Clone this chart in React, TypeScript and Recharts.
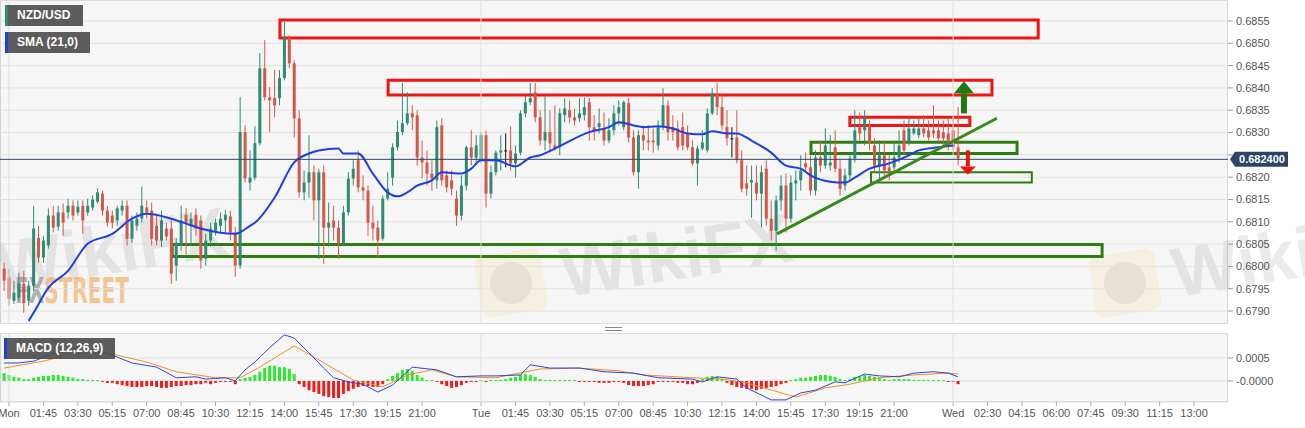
import React from "react";
import {
  ComposedChart,
  Bar,
  Line,
  XAxis,
  YAxis,
  CartesianGrid,
  ReferenceLine,
  ReferenceArea,
  ReferenceDot,
  Cell,
} from "recharts";

// 15-minute NZD/USD bars, first bar is Sun 23:45 (index -1), Mon 00:00 = 0
const FIRST_BAR = -1;

const opens = [
  0.67995, 0.67975, 0.67923, 0.6793, 0.67961, 0.67923, 0.67957, 0.68064, 0.6802, 0.68047,
  0.68114, 0.68089, 0.68121, 0.68121, 0.68136, 0.68121, 0.68136, 0.68121, 0.68132, 0.68145,
  0.68163, 0.68125, 0.68114, 0.68103, 0.68125, 0.68136, 0.68062, 0.68091, 0.68107, 0.68132,
  0.68125, 0.68091, 0.68058, 0.68085, 0.68085, 0.68002, 0.68047, 0.68116, 0.68091, 0.68116,
  0.68103, 0.68017, 0.68058, 0.6808, 0.68091, 0.68103, 0.68112, 0.68076, 0.68002, 0.68301,
  0.68188, 0.68199, 0.68276, 0.68444, 0.68379, 0.68377, 0.68377, 0.68422, 0.68512, 0.68455,
  0.68332, 0.68166, 0.68188, 0.68211, 0.68148, 0.68211, 0.68087, 0.68103, 0.68087, 0.68051,
  0.68121, 0.68197, 0.68238, 0.68177, 0.6817, 0.68098, 0.68087, 0.68062, 0.68152, 0.68199,
  0.68267, 0.68301, 0.68321, 0.68343, 0.68339, 0.68244, 0.68233, 0.68208, 0.68193, 0.68316,
  0.68204, 0.68193, 0.68152, 0.68114, 0.68181, 0.68267, 0.68244, 0.68238, 0.68294, 0.68163,
  0.68211, 0.68255, 0.6826, 0.6826, 0.68231, 0.68255, 0.68343, 0.68368, 0.6839, 0.68334,
  0.68282, 0.68301, 0.68271, 0.68267, 0.68339, 0.6835, 0.68334, 0.68332, 0.68339, 0.68368,
  0.68312, 0.68312, 0.68309, 0.68282, 0.68305, 0.68343, 0.68312, 0.68366, 0.68289, 0.68211,
  0.68294, 0.68282, 0.68282, 0.68271, 0.68312, 0.68361, 0.68312, 0.68309, 0.68312, 0.68298,
  0.68267, 0.68231, 0.68264, 0.6826, 0.68343, 0.68388, 0.68357, 0.68312, 0.68287, 0.68289,
  0.68238, 0.68186, 0.68188, 0.68188, 0.68163, 0.68219, 0.68107, 0.6808, 0.68148, 0.68181,
  0.68107, 0.68186, 0.68193, 0.68231, 0.68222, 0.6817, 0.68244, 0.68226, 0.68226, 0.68267,
  0.68219, 0.68181, 0.68204, 0.68242, 0.68312, 0.68305, 0.68316, 0.68271, 0.68226, 0.68249,
  0.68222, 0.68222, 0.68244, 0.68305, 0.68278, 0.68298, 0.68294, 0.68309, 0.68305, 0.68305,
  0.68305, 0.68301, 0.68298, 0.68305, 0.68267,
];

const highs = [
  0.68008, 0.67995, 0.67968, 0.67986, 0.6799, 0.67968, 0.68136, 0.68091, 0.68069, 0.6813,
  0.68136, 0.68136, 0.68141, 0.68152, 0.68148, 0.68148, 0.68148, 0.68152, 0.68159, 0.68175,
  0.6817, 0.68136, 0.68125, 0.68136, 0.68148, 0.68148, 0.68114, 0.68121, 0.68179, 0.68148,
  0.68143, 0.68114, 0.68125, 0.68098, 0.68103, 0.68064, 0.68136, 0.6813, 0.68121, 0.6813,
  0.68114, 0.68073, 0.68098, 0.68107, 0.68121, 0.68127, 0.68125, 0.68089, 0.68379, 0.68316,
  0.6826, 0.68314, 0.68478, 0.68507, 0.68402, 0.6844, 0.6844, 0.68548, 0.68518, 0.68462,
  0.6835, 0.68215, 0.68294, 0.68226, 0.68219, 0.68226, 0.68143, 0.68136, 0.68103, 0.68136,
  0.68211, 0.68238, 0.6826, 0.68204, 0.68181, 0.68136, 0.68103, 0.68159, 0.68211, 0.68276,
  0.68327, 0.68411, 0.6839, 0.68361, 0.6835, 0.68282, 0.6826, 0.68238, 0.68327, 0.68332,
  0.68215, 0.68215, 0.6817, 0.68204, 0.68271, 0.68305, 0.68294, 0.68301, 0.68305, 0.68226,
  0.6826, 0.68294, 0.68298, 0.68314, 0.68271, 0.6835, 0.68384, 0.68411, 0.68411, 0.6835,
  0.68384, 0.6835, 0.68361, 0.68354, 0.68377, 0.68372, 0.68354, 0.68377, 0.68379, 0.68377,
  0.68339, 0.68354, 0.68345, 0.68332, 0.68361, 0.68372, 0.68372, 0.68377, 0.68305, 0.68305,
  0.68316, 0.68316, 0.68309, 0.68327, 0.68399, 0.68372, 0.68339, 0.68327, 0.68345, 0.68316,
  0.68282, 0.68271, 0.68305, 0.68354, 0.68399, 0.68411, 0.68384, 0.6835, 0.68312, 0.6835,
  0.6826, 0.68226, 0.68226, 0.68226, 0.68226, 0.68238, 0.68148, 0.68159, 0.68204, 0.68208,
  0.68204, 0.68215, 0.68249, 0.68255, 0.68249, 0.6826, 0.68282, 0.68309, 0.68294, 0.68305,
  0.68238, 0.68219, 0.68249, 0.6835, 0.68345, 0.6835, 0.68327, 0.68287, 0.68282, 0.68282,
  0.68249, 0.68282, 0.68305, 0.68327, 0.68332, 0.68327, 0.68332, 0.68339, 0.68327, 0.68361,
  0.68327, 0.68327, 0.68332, 0.68339, 0.68357,
];

const lows = [
  0.67945, 0.67912, 0.67916, 0.67923, 0.67896, 0.67912, 0.67945, 0.68008, 0.68008, 0.6804,
  0.68076, 0.6808, 0.68069, 0.68107, 0.68103, 0.68114, 0.68073, 0.68114, 0.68125, 0.68141,
  0.68114, 0.68089, 0.68085, 0.68091, 0.68114, 0.68047, 0.68053, 0.6808, 0.68098, 0.68107,
  0.68047, 0.68047, 0.68044, 0.68058, 0.67961, 0.67968, 0.68035, 0.68024, 0.68047, 0.68069,
  0.67995, 0.68002, 0.68044, 0.68069, 0.68076, 0.68076, 0.68058, 0.67977, 0.67995, 0.68188,
  0.6817, 0.68193, 0.68271, 0.68372, 0.68301, 0.68334, 0.68361, 0.68417, 0.68444, 0.68289,
  0.68154, 0.68148, 0.68154, 0.68103, 0.68017, 0.68006, 0.68044, 0.68058, 0.68017, 0.68047,
  0.68114, 0.68181, 0.68166, 0.68148, 0.68069, 0.68058, 0.6802, 0.68058, 0.68148, 0.68181,
  0.6826, 0.68294, 0.68316, 0.68305, 0.68226, 0.68197, 0.68181, 0.6817, 0.68174, 0.68181,
  0.68166, 0.68159, 0.68091, 0.68103, 0.6817, 0.68226, 0.68231, 0.68231, 0.68132, 0.68152,
  0.68204, 0.68215, 0.68222, 0.68215, 0.68199, 0.68249, 0.68334, 0.68361, 0.68323, 0.68271,
  0.6826, 0.68255, 0.6826, 0.68249, 0.68323, 0.68321, 0.68316, 0.68323, 0.68327, 0.68282,
  0.68282, 0.68298, 0.68271, 0.68276, 0.68294, 0.68316, 0.68305, 0.68278, 0.68204, 0.68174,
  0.6826, 0.6826, 0.68255, 0.6826, 0.68305, 0.68282, 0.68282, 0.6826, 0.6826, 0.6826,
  0.68226, 0.68181, 0.6826, 0.68255, 0.68339, 0.68339, 0.68305, 0.68271, 0.68244, 0.68231,
  0.68166, 0.68159, 0.68109, 0.68148, 0.68087, 0.68091, 0.68058, 0.68035, 0.68125, 0.68076,
  0.68098, 0.68148, 0.6817, 0.68211, 0.68159, 0.68159, 0.68211, 0.68219, 0.68215, 0.68211,
  0.68159, 0.6817, 0.68193, 0.68233, 0.68282, 0.68271, 0.6826, 0.68211, 0.68193, 0.68199,
  0.68193, 0.68211, 0.68233, 0.68249, 0.68271, 0.68294, 0.68287, 0.68289, 0.68282, 0.68287,
  0.68278, 0.68271, 0.6826, 0.6826, 0.68226,
];

const closes = [
  0.67968, 0.67927, 0.67941, 0.67961, 0.67918, 0.67957, 0.68085, 0.6802, 0.68058, 0.68114,
  0.68087, 0.68121, 0.68098, 0.68136, 0.68114, 0.68134, 0.68103, 0.68136, 0.6815, 0.68166,
  0.68125, 0.68098, 0.68098, 0.6813, 0.68136, 0.68062, 0.68103, 0.68107, 0.68136, 0.68121,
  0.68062, 0.68058, 0.68103, 0.68067, 0.67984, 0.68053, 0.68103, 0.68098, 0.68107, 0.68085,
  0.68013, 0.68058, 0.68085, 0.68098, 0.68107, 0.68116, 0.68076, 0.68002, 0.68301, 0.68197,
  0.68199, 0.68276, 0.68444, 0.68379, 0.68372, 0.68361, 0.68422, 0.68512, 0.68455, 0.68332,
  0.68166, 0.68188, 0.68211, 0.68148, 0.68211, 0.68087, 0.68098, 0.68087, 0.68051, 0.68121,
  0.68197, 0.68219, 0.68177, 0.6817, 0.68098, 0.68085, 0.68058, 0.68152, 0.68174, 0.68267,
  0.68301, 0.68321, 0.68343, 0.68334, 0.68244, 0.68233, 0.68208, 0.68197, 0.68312, 0.68193,
  0.68177, 0.68174, 0.68114, 0.68181, 0.68267, 0.68244, 0.68271, 0.68294, 0.68163, 0.68211,
  0.68255, 0.6826, 0.6826, 0.68231, 0.68253, 0.68343, 0.68368, 0.68377, 0.68334, 0.68282,
  0.68301, 0.68276, 0.68264, 0.68343, 0.68354, 0.68334, 0.68327, 0.68343, 0.68357, 0.68312,
  0.68305, 0.68321, 0.68282, 0.68305, 0.68343, 0.68357, 0.68368, 0.68289, 0.68211, 0.68294,
  0.68282, 0.68278, 0.68278, 0.68312, 0.68361, 0.68301, 0.68301, 0.68267, 0.68271, 0.68267,
  0.68231, 0.68264, 0.68278, 0.68343, 0.68388, 0.68357, 0.68316, 0.68287, 0.68287, 0.68238,
  0.68174, 0.68174, 0.68193, 0.68163, 0.68211, 0.68107, 0.6808, 0.68148, 0.68181, 0.68107,
  0.68188, 0.68193, 0.68215, 0.68222, 0.6817, 0.68244, 0.68226, 0.68271, 0.68233, 0.68219,
  0.68174, 0.68204, 0.68242, 0.68305, 0.68298, 0.68334, 0.68276, 0.68226, 0.68249, 0.68215,
  0.68211, 0.68244, 0.68271, 0.6826, 0.68309, 0.68309, 0.68309, 0.68298, 0.68289, 0.68298,
  0.68287, 0.68287, 0.68276, 0.68267, 0.68242,
];

// SMA(21) at these bars
const smaIdx = [
  4, 5, 8, 12, 16, 21, 25, 28, 33, 36, 39, 46, 49, 50, 54, 58, 61, 63, 67, 68, 71, 74, 77, 79, 81,
  83, 86, 88, 92, 94, 96, 99, 103, 106, 108, 111, 118, 122, 124, 127, 129, 132, 135, 138, 141, 143,
  146, 148, 151, 155, 158, 161, 163, 167, 170, 172, 175, 179, 183, 185, 189, 192,
];
const smaVal = [
  0.67878, 0.67896, 0.67952, 0.6799, 0.68051, 0.68073, 0.68107, 0.68118, 0.68107, 0.68096,
  0.68085, 0.68073, 0.68091, 0.68098, 0.68154, 0.68233, 0.68253, 0.6826, 0.68264, 0.68253,
  0.68253, 0.68208, 0.68166, 0.68157, 0.68166, 0.68181, 0.68193, 0.68211, 0.68208, 0.68219,
  0.68238, 0.68238, 0.68224, 0.68244, 0.68249, 0.68264, 0.68301, 0.68312, 0.68323, 0.68316,
  0.68312, 0.68314, 0.68309, 0.68298, 0.68296, 0.68303, 0.68298, 0.68298, 0.68282, 0.68255,
  0.68226, 0.68219, 0.68204, 0.6819, 0.68188, 0.68199, 0.68219, 0.68231, 0.68249, 0.6826,
  0.68267, 0.68271,
];

// MACD (12,26,9)
const macdIdx = [
  -1, 2, 5, 9, 13, 17, 21, 25, 30, 34, 38, 40, 44, 46, 48, 50, 53, 56, 58, 61, 64, 66, 69, 72, 75,
  78, 82, 87, 91, 96, 99, 104, 106, 110, 116, 121, 127, 132, 139, 141, 144, 148, 150, 155, 158,
  161, 164, 168, 170, 174, 177, 181, 184, 188, 191, 193,
];
const macdVal = [
  0.00039, 0.00039, 0.00043, 0.00059, 0.00067, 0.00067, 0.00056, 0.00039, 0.0003, 0.00007,
  0.00009, 0.00004, 0.00007, 0, 0.00024, 0.00041, 0.00072, 0.001, 0.00093, 0.00061,
  0.00028, 0.00007, -0.00002, -0.00007, -0.00024, -0.00009, 0.0003, 0.00024, 0.00009, 0.00011,
  0.00011, 0.00013, 0.00035, 0.00028, 0.00028, 0.0002, 0.00017, 0.00007, 0.00004, -0.00002,
  0.00009, 0.00004, -0.00015, -0.00041, -0.00041, -0.00026, -0.0002, -0.00002, -0.00004, 0.00015,
  0.00011, 0.00009, 0.00017, 0.0002, 0.00017, 0.00009,
];
const signalIdx = [
  -1, 7, 13, 20, 28, 34, 42, 47, 51, 58, 62, 70, 76, 81, 86, 91, 99, 108, 116, 124, 129, 139, 145,
  150, 160, 166, 171, 177, 184, 191, 193,
];
const signalVal = [
  0.00028, 0.00043, 0.00059, 0.00061, 0.00041, 0.0002, 0.00007, 0.00007, 0.0003, 0.00076,
  0.00052, 0.00002, -0.00013, 0.00013, 0.00024, 0.00009, 0.00007, 0.00026, 0.00028, 0.00022,
  0.00013, 0.00007, 0.00004, -0.00004, -0.00035, -0.00015, -0.00007, 0.00007, 0.00013, 0.00017,
  0.00015,
];
const histogram = [
  0.00017, 0.00013, 0.00009, 0.00007, 0.00004, 0.00004, 0.00007, 0.00009, 0.00011, 0.00011,
  0.00013, 0.00013, 0.00011, 0.00009, 0.00007, 0.00004, 0.00004, 0.00002, 0.00002, 0.00002,
  -0.00002, -0.00004, -0.00004, -0.00007, -0.00009, -0.00011, -0.00013, -0.00013, -0.00013, -0.00011,
  -0.00011, -0.00013, -0.00015, -0.00015, -0.00013, -0.00011, -0.00011, -0.00009, -0.00009, -0.00007,
  -0.00007, -0.00004, -0.00007, -0.00004, -0.00002, -0.00002, -0.00002, -0.00007, 0.00004, 0.00007,
  0.00009, 0.00013, 0.0002, 0.00028, 0.00033, 0.00033, 0.0003, 0.0003, 0.00026, 0.00015,
  -0.00007, -0.00013, -0.0002, -0.00024, -0.00028, -0.00033, -0.00035, -0.00037, -0.00037, -0.00028,
  -0.00022, -0.00017, -0.00013, -0.00011, -0.00011, -0.00013, -0.00013, -0.00007, 0.00004, 0.00011,
  0.00017, 0.00024, 0.00026, 0.00022, 0.00013, 0.00007, 0.00002, 0.00002, -0.00002, -0.00007,
  -0.00011, -0.00015, -0.00013, -0.00009, -0.00004, -0.00002, -0.00002, 0.00002, -0.00002, 0.00002,
  0.00002, 0.00002, 0.00004, 0.00007, 0.00009, 0.00013, 0.00015, 0.00013, 0.00009, 0.00004,
  0.00002, 0.00002, 0.00002, 0.00002, 0.00002, 0.00002, 0.00002, -0.00002, -0.00002, -0.00002,
  -0.00002, -0.00004, -0.00004, -0.00004, -0.00002, -0.00002, -0.00004, -0.00009, -0.00011, -0.00011,
  -0.00011, -0.00009, -0.00007, -0.00002, -0.00002, -0.00002, -0.00002, -0.00004, -0.00004, -0.00007,
  -0.00007, -0.00004, 0.00004, 0.00009, 0.00011, 0.00009, 0.00004, -0.00004, -0.00009, -0.00013,
  -0.00015, -0.00017, -0.00017, -0.0002, -0.00017, -0.00015, -0.00013, -0.00011, -0.00007, -0.00004,
  0.00002, 0.00004, 0.00007, 0.00007, 0.00009, 0.00011, 0.00013, 0.00013, 0.00011, 0.00009,
  0.00004, 0.00002, 0.00004, 0.00009, 0.00011, 0.00013, 0.00011, 0.00009, 0.00007, 0.00004,
  0.00002, 0.00004, 0.00004, 0.00004, 0.00004, 0.00002, 0.00002, 0.00002, 0.00002, 0.00002,
  0.00002, 0.00002, -0.00002, -0.00002, -0.00007,
];

const tickIdx = [
  0, 7, 14, 21, 28, 35, 42, 49, 56, 63, 70, 77, 84,
  96, 103, 110, 117, 124, 131, 138, 145, 152, 159, 166, 173, 180,
  192, 199, 206, 213, 220, 227, 234, 241,
];
const tickLabels = [
  "Mon", "01:45", "03:30", "05:15", "07:00", "08:45", "10:30", "12:15", "14:00", "15:45", "17:30", "19:15", "21:00",
  "Tue", "01:45", "03:30", "05:15", "07:00", "08:45", "10:30", "12:15", "14:00", "15:45", "17:30", "19:15", "21:00",
  "Wed", "02:30", "04:15", "06:00", "07:45", "09:30", "11:15", "13:00",
];
const dayStarts = [0, 96, 192];

const priceTicks = [
  0.679, 0.6795, 0.68, 0.6805, 0.681, 0.6815, 0.682, 0.6825, 0.683, 0.6835, 0.684, 0.6845, 0.685, 0.6855,
];
const macdTicks = [0.0005, 0];
const macdTickLabels = ["0.0005", "-0.0000"];
const lastPrice = 0.6824;

// drawn zones: [fromBar, toBar, lowPrice, highPrice]
const resistanceBoxes = [
  [55.1, 209.3, 0.68512, 0.68552],
  [77.1, 199.9, 0.68384, 0.68417],
  [171, 195.4, 0.68316, 0.68334],
];
const supportBoxes = [
  [33.2, 222.3, 0.68022, 0.68049],
  [163.1, 205, 0.68253, 0.68278],
];
const thinSupportBox = [175.3, 208, 0.68188, 0.68211];
const trendFrom = { x: 156.2, y: 0.68073 };
const trendTo = { x: 200.9, y: 0.68332 };
const upArrow = { x: 194.2, from: 0.68343, to: 0.68388 };
const downArrow = { x: 195.0, from: 0.6826, to: 0.68224 };

const X_MIN = -1.83;
const X_MAX = 247.9;
const PRICE_DOMAIN = [0.67871, 0.68597];
const MACD_DOMAIN = [-0.000456, 0.00104];

const UP = "#2f8c74";
const DOWN = "#d4584a";
const DOJI = "#111111";
const BOX_RED = "#f01515";
const BOX_GREEN = "#2f7d10";

const candleRows = closes.map((c, k) => {
  const t = FIRST_BAR + k;
  const s = smaIdx.indexOf(t);
  return {
    t,
    o: opens[k],
    h: highs[k],
    l: lows[k],
    c,
    range: [lows[k], highs[k]],
    sma: s >= 0 ? smaVal[s] : null,
  };
});

const macdRows = histogram.map((hv, k) => {
  const t = FIRST_BAR + k;
  const m = macdIdx.indexOf(t);
  const s = signalIdx.indexOf(t);
  return {
    t,
    hist: hv,
    macd: m >= 0 ? macdVal[m] : null,
    signal: s >= 0 ? signalVal[s] : null,
  };
});

const Candle = (props: any) => {
  const { x, y, width, height, payload } = props;
  if (!payload || height == null) return null;
  const { o, h, l, c } = payload;
  const cx = x + width / 2;
  const k = height / (h - l || 1e-9);
  const yo = y + (h - o) * k;
  const yc = y + (h - c) * k;
  const col = c > o ? UP : c < o ? DOWN : DOJI;
  const top = Math.min(yo, yc);
  const bh = Math.max(1, Math.abs(yo - yc));
  return (
    <g>
      <line x1={cx} x2={cx} y1={y} y2={y + height} stroke={col} strokeWidth={1} />
      <rect x={cx - 1.5} y={top} width={3} height={bh} fill={col} />
    </g>
  );
};

// the last-price tag covers the 0.6825 tick text, as on the source chart
const priceTickText = (v: number) => (Math.abs(v - lastPrice) < 0.0002 ? "" : v.toFixed(4));

const PriceTag = (props: any) => {
  const vb = props.viewBox;
  if (!vb) return null;
  const x = vb.x + vb.width + 2;
  const y = vb.y;
  return (
    <g>
      <path
        d={`M${x},${y} L${x + 5},${y - 7.5} L${x + 58},${y - 7.5} L${x + 58},${y + 7.5} L${x + 5},${y + 7.5} Z`}
        fill="#2c4468"
      />
      <text x={x + 32} y={y + 4} textAnchor="middle" fill="#ffffff" fontSize={11} fontWeight="bold">
        {lastPrice.toFixed(6)}
      </text>
    </g>
  );
};

const labelBox = (top: number, left: number, width: number, stripe: string, text: string) => (
  <div
    style={{
      position: "absolute",
      top,
      left,
      width,
      height: 21,
      background: "rgba(80,80,80,0.93)",
      borderLeft: `3px solid ${stripe}`,
      color: "#fff",
      fontWeight: "bold",
      fontSize: 12,
      lineHeight: "21px",
      paddingLeft: 9,
      boxSizing: "border-box",
    }}
  >
    {text}
  </div>
);

const wikiMark = (left: number, top: number, text: string) => (
  <div
    style={{
      position: "absolute",
      left,
      top,
      fontSize: 70,
      lineHeight: "70px",
      fontWeight: "bold",
      color: "rgba(110,110,110,0.14)",
      transform: "rotate(-9deg)",
      transformOrigin: "left bottom",
      whiteSpace: "nowrap",
    }}
  >
    {text}
  </div>
);

const logoMark = (left: number, top: number) => (
  <div
    style={{
      position: "absolute",
      left,
      top,
      width: 66,
      height: 62,
      borderRadius: 8,
      background: "rgba(240,215,150,0.22)",
      transform: "rotate(-9deg)",
    }}
  >
    <div
      style={{
        position: "absolute",
        left: 12,
        top: 10,
        width: 42,
        height: 42,
        borderRadius: "50%",
        background: "rgba(120,120,120,0.12)",
      }}
    />
  </div>
);

export default function App() {
  return (
    <div
      style={{
        position: "fixed",
        left: 0,
        top: 0,
        width: 1305,
        height: 428,
        background: "#ffffff",
        fontFamily: "Arial, 'Liberation Sans', sans-serif",
        overflow: "hidden",
      }}
    >
      {/* panel backgrounds */}
      <div style={{ position: "absolute", left: 0, top: 0, width: 1228, height: 324, background: "#f6f6f6", border: "1px solid #d4d4d4", boxSizing: "border-box" }} />
      <div style={{ position: "absolute", left: 0, top: 333, width: 1228, height: 69, background: "#f6f6f6", border: "1px solid #d4d4d4", boxSizing: "border-box" }} />

      {/* watermarks */}
      {wikiMark(2, 232, "WikiFX")}
      {logoMark(478, 252)}
      {wikiMark(567, 238, "WikiFX")}
      {logoMark(1092, 252)}
      {wikiMark(1178, 238, "Wiki")}
      <div
        style={{
          position: "absolute",
          left: 15,
          top: 273,
          fontSize: 36,
          lineHeight: "36px",
          fontWeight: "bold",
          fontFamily: "'Liberation Sans Narrow', 'DejaVu Sans Condensed', sans-serif",
          transform: "scaleX(0.62)",
          transformOrigin: "left top",
          whiteSpace: "nowrap",
        }}
      >
        <span style={{ color: "rgba(130,130,130,0.6)" }}>FX</span>
        <span style={{ color: "rgba(240,165,80,0.6)" }}>STREET</span>
      </div>

      <div style={{ position: "absolute", left: 0, top: 0 }}>
        <ComposedChart width={1305} height={324} data={candleRows} margin={{ top: 0, right: 0, bottom: 0, left: 0 }}>
          <CartesianGrid vertical={false} stroke="#e2e2e2" />
          <XAxis type="number" dataKey="t" domain={[X_MIN, X_MAX]} allowDataOverflow hide />
          <YAxis
            orientation="right"
            width={77}
            domain={PRICE_DOMAIN}
            allowDataOverflow
            ticks={priceTicks}
            interval={0}
            tickFormatter={priceTickText}
            tick={{ fontSize: 11, fill: "#555" }}
            tickLine={{ stroke: "#999" }}
            tickSize={5}
            tickMargin={3}
            axisLine={false}
          />
          {dayStarts.map((d) => (
            <ReferenceLine key={`d${d}`} x={d} stroke="#e0e0e0" strokeWidth={1} />
          ))}
          <Bar dataKey="range" barSize={3} shape={<Candle />} isAnimationActive={false} />
          <Line
            type="monotone"
            dataKey="sma"
            stroke="#1f3ee0"
            strokeWidth={2}
            dot={false}
            connectNulls
            isAnimationActive={false}
          />
          <ReferenceLine y={lastPrice} stroke="#2c4468" strokeWidth={1} label={<PriceTag />} />
          {resistanceBoxes.map((b, k) => (
            <ReferenceArea
              key={`r${k}`}
              x1={b[0]}
              x2={b[1]}
              y1={b[2]}
              y2={b[3]}
              fill="none"
              fillOpacity={0}
              stroke={BOX_RED}
              strokeWidth={3}
              strokeOpacity={1}
            />
          ))}
          {supportBoxes.map((b, k) => (
            <ReferenceArea
              key={`g${k}`}
              x1={b[0]}
              x2={b[1]}
              y1={b[2]}
              y2={b[3]}
              fill="none"
              fillOpacity={0}
              stroke={BOX_GREEN}
              strokeWidth={3}
              strokeOpacity={1}
            />
          ))}
          <ReferenceArea
            x1={thinSupportBox[0]}
            x2={thinSupportBox[1]}
            y1={thinSupportBox[2]}
            y2={thinSupportBox[3]}
            fill="none"
            fillOpacity={0}
            stroke={BOX_GREEN}
            strokeWidth={2}
            strokeOpacity={1}
          />
          <ReferenceLine segment={[trendFrom, trendTo]} stroke="#3a8a1a" strokeWidth={3} />
          <ReferenceLine
            segment={[{ x: upArrow.x, y: upArrow.from }, { x: upArrow.x, y: upArrow.to }]}
            stroke="#1f7a10"
            strokeWidth={6}
          />
          <ReferenceDot
            x={upArrow.x}
            y={upArrow.to}
            shape={(p: any) => (
              <path d={`M${p.cx - 10},${p.cy} L${p.cx + 10},${p.cy} L${p.cx},${p.cy - 12} Z`} fill="#1f7a10" />
            )}
          />
          <ReferenceLine
            segment={[{ x: downArrow.x, y: downArrow.from }, { x: downArrow.x, y: downArrow.to }]}
            stroke="#ee1111"
            strokeWidth={4}
          />
          <ReferenceDot
            x={downArrow.x}
            y={downArrow.to}
            shape={(p: any) => (
              <path d={`M${p.cx - 8},${p.cy} L${p.cx + 8},${p.cy} L${p.cx},${p.cy + 8} Z`} fill="#ee1111" />
            )}
          />
        </ComposedChart>
      </div>

      {/* divider handle */}
      <div style={{ position: "absolute", left: 605, top: 327, width: 17, height: 1, background: "#888" }} />
      <div style={{ position: "absolute", left: 605, top: 330, width: 17, height: 1, background: "#888" }} />

      <div style={{ position: "absolute", left: 0, top: 333 }}>
        <ComposedChart width={1305} height={95} data={macdRows} margin={{ top: 0, right: 0, bottom: 0, left: 0 }}>
          <CartesianGrid vertical={false} stroke="#e2e2e2" />
          <XAxis
            type="number"
            dataKey="t"
            domain={[X_MIN, X_MAX]}
            allowDataOverflow
            ticks={tickIdx}
            interval={0}
            tickFormatter={(v: number) => tickLabels[tickIdx.indexOf(v)] ?? ""}
            tick={{ fontSize: 11, fill: "#555" }}
            tickLine={{ stroke: "#aaa" }}
            tickSize={4}
            tickMargin={3}
            axisLine={false}
            height={26}
          />
          <YAxis
            orientation="right"
            width={77}
            domain={MACD_DOMAIN}
            allowDataOverflow
            ticks={macdTicks}
            interval={0}
            tickFormatter={(v: number) => macdTickLabels[macdTicks.indexOf(v)] ?? ""}
            tick={{ fontSize: 11, fill: "#555" }}
            tickLine={{ stroke: "#999" }}
            tickSize={5}
            tickMargin={3}
            axisLine={false}
          />
          {dayStarts.map((d) => (
            <ReferenceLine key={`m${d}`} x={d} stroke="#e0e0e0" strokeWidth={1} />
          ))}
          <Bar dataKey="hist" barSize={3} isAnimationActive={false}>
            {macdRows.map((r, k) => (
              <Cell key={k} fill={r.hist >= 0 ? "#2ee82e" : "#ee1c1c"} />
            ))}
          </Bar>
          <Line type="linear" dataKey="signal" stroke="#f28c28" strokeWidth={1} dot={false} connectNulls isAnimationActive={false} />
          <Line type="linear" dataKey="macd" stroke="#2b46d8" strokeWidth={1} dot={false} connectNulls isAnimationActive={false} />
        </ComposedChart>
      </div>

      {labelBox(5, 5, 78, UP, "NZD/USD")}
      {labelBox(32, 5, 85, "#1f3ee0", "SMA (21,0)")}
      {labelBox(338, 4, 111, "#1f3ee0", "MACD (12,26,9)")}
    </div>
  );
}
